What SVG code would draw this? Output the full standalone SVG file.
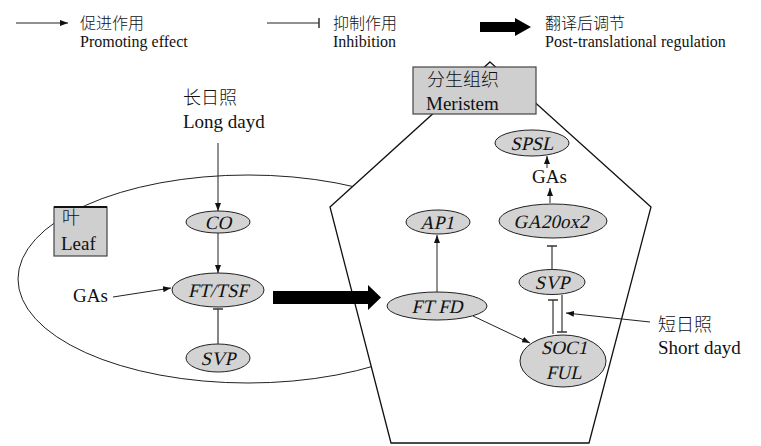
<svg xmlns="http://www.w3.org/2000/svg" width="761" height="446" viewBox="0 0 761 446">
<style>
text{font-family:"Liberation Serif","Noto Sans CJK SC",serif;fill:#111}
.zh{font-family:"Noto Sans CJK SC","Liberation Serif",sans-serif;font-weight:300}
.lg{font-size:16px}
.big{font-size:19px}
.zhb{font-size:18px}
.gene{font-family:"Liberation Serif",serif;font-size:19px;text-anchor:middle}
.node{fill:#d3d3d3;stroke:#222;stroke-width:1}
.box{fill:#cfcfcf;stroke:#444;stroke-width:1.2}
.ln{stroke:#222;stroke-width:1;fill:none}
.inh{stroke:#444;stroke-width:1.3;fill:none}
</style>
<defs>
<marker id="ah" markerUnits="userSpaceOnUse" viewBox="0 0 8 6" refX="8" refY="3" markerWidth="8" markerHeight="6" orient="auto">
<path d="M0,0 L8,3 L0,6 z" fill="#111"/>
</marker>
<marker id="bar" markerUnits="userSpaceOnUse" viewBox="0 0 2 10" refX="1" refY="5" markerWidth="2" markerHeight="10" orient="auto">
<path d="M1,0 L1,10" stroke="#333" stroke-width="1.5"/>
</marker>
</defs>

<g id="legend">
<line x1="16" y1="23" x2="68" y2="23" class="ln" marker-end="url(#ah)"/>
<text x="80" y="29" class="zh lg">促进作用</text>
<text x="80" y="47" class="lg">Promoting effect</text>
<line x1="267" y1="23" x2="319" y2="23" class="ln" marker-end="url(#bar)"/>
<text x="333" y="29" class="zh lg">抑制作用</text>
<text x="333" y="47" class="lg">Inhibition</text>
<path d="M480,22 L515,22 L515,18 L531,27 L515,36 L515,32 L480,32 z" fill="#000"/>
<text x="545" y="29" class="zh lg">翻译后调节</text>
<text x="545" y="47" class="lg">Post-translational regulation</text>
</g>

<g id="leaf-region">
<ellipse cx="248" cy="279" rx="230" ry="104" class="ln"/>
</g>

<g id="meristem-region">
<path d="M490,62 L651,207 L589,443 L391,443 L330,207 z" fill="#fff" stroke="#111" stroke-width="1.3"/>
</g>

<g id="leaf-label">
<rect x="54" y="207" width="53" height="49" class="box"/>
<line x1="54" y1="207" x2="107" y2="207" stroke="#111" stroke-width="2"/>
<text x="62" y="224" class="zh zhb">叶</text>
<text x="61" y="250" class="big">Leaf</text>
</g>

<g id="meristem-label">
<rect x="413" y="67" width="123" height="47" class="box"/>
<text x="427" y="86" class="zh zhb">分生组织</text>
<text x="426" y="110" class="big">Meristem</text>
</g>

<g id="long-day">
<text x="183" y="104" class="zh zhb">长日照</text>
<text x="183" y="128" class="big">Long dayd</text>
</g>

<g id="short-day">
<text x="658" y="331" class="zh zhb">短日照</text>
<text x="658" y="354" class="big">Short dayd</text>
</g>

<g id="gas-leaf"><text x="73" y="302" class="big">GAs</text></g>
<g id="gas-meristem"><text x="549.5" y="183" class="big" text-anchor="middle">GAs</text></g>

<g id="CO"><ellipse cx="218" cy="222" rx="32" ry="11" class="node"/><text transform="translate(218,229) skewX(-13)" class="gene">CO</text></g>
<g id="FT-TSF"><ellipse cx="218" cy="290" rx="46" ry="17" class="node"/><text transform="translate(218,297) skewX(-13)" class="gene">FT/TSF</text></g>
<g id="SVP-leaf"><ellipse cx="218" cy="358" rx="32" ry="14" class="node"/><text transform="translate(218,365) skewX(-13)" class="gene">SVP</text></g>
<g id="AP1"><ellipse cx="438" cy="222" rx="32" ry="12" class="node"/><text transform="translate(437,229) skewX(-13)" class="gene">AP1</text></g>
<g id="SPSL"><ellipse cx="532" cy="143" rx="37" ry="13" class="node"/><text transform="translate(532,150) skewX(-13)" class="gene">SPSL</text></g>
<g id="GA20ox2"><ellipse cx="553" cy="221" rx="54" ry="17" class="node"/><text transform="translate(551,228) skewX(-13)" class="gene">GA20ox2</text></g>
<g id="FT-FD"><ellipse cx="437" cy="306" rx="50" ry="14" class="node"/><text transform="translate(437,313) skewX(-13)" class="gene">FT FD</text></g>
<g id="SVP-meristem"><ellipse cx="552" cy="282" rx="33" ry="12.5" class="node"/><text transform="translate(552,289) skewX(-13)" class="gene">SVP</text></g>
<g id="SOC1-FUL"><ellipse cx="563" cy="361" rx="43" ry="26" class="node"/><text transform="translate(564,354) skewX(-13)" class="gene">SOC1</text><text transform="translate(564,379) skewX(-13)" class="gene">FUL</text></g>

<g id="connectors">
<line x1="218" y1="143" x2="218" y2="211" class="ln" marker-end="url(#ah)"/>
<line x1="218" y1="233" x2="218" y2="273" class="ln" marker-end="url(#ah)"/>
<line x1="113" y1="297" x2="171" y2="288" class="ln" marker-end="url(#ah)"/>
<line x1="218" y1="344" x2="218" y2="309" class="inh" marker-end="url(#bar)"/>
<path d="M273,291 L368,291 L368,285 L381,297.5 L368,310 L368,304 L273,304 z" fill="#000"/>
<line x1="437" y1="292" x2="437" y2="235" class="ln" marker-end="url(#ah)"/>
<line x1="473" y1="316" x2="530" y2="343" class="ln" marker-end="url(#ah)"/>
<line x1="550" y1="203" x2="550" y2="188" class="ln" marker-end="url(#ah)"/>
<line x1="547" y1="168" x2="547" y2="156" class="ln" marker-end="url(#ah)"/>
<line x1="552" y1="270" x2="552" y2="246" class="inh" marker-end="url(#bar)"/>
<line x1="553" y1="334" x2="553" y2="300" class="inh" marker-end="url(#bar)"/>
<line x1="562" y1="295" x2="562" y2="332" class="inh" marker-end="url(#bar)"/>
<line x1="650" y1="322" x2="566" y2="313" class="ln" marker-end="url(#ah)"/>
</g>
</svg>
